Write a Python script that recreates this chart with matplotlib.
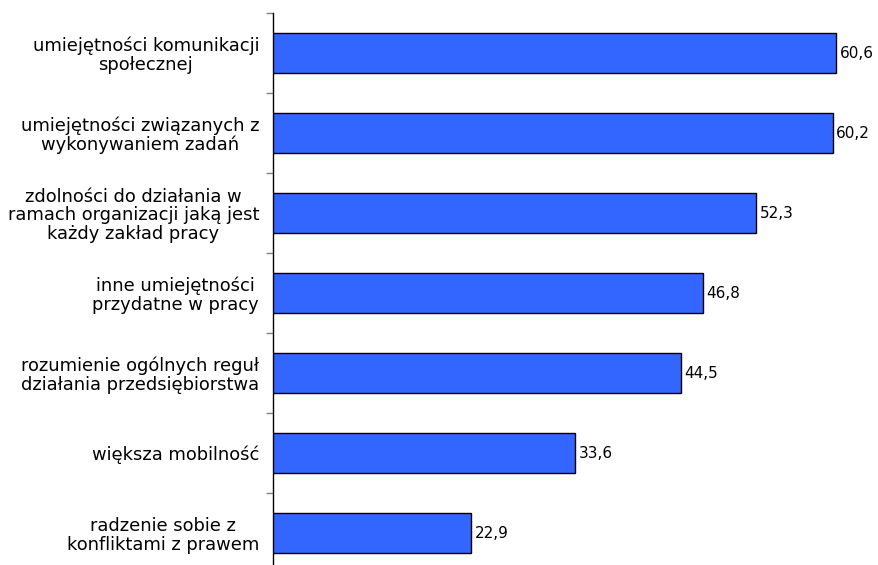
import matplotlib.pyplot as plt
import numpy as np

categories = [
    "umiejętności komunikacji\nspołecznej",
    "umiejętności związanych z\nwykonywaniem zadań",
    "zdolności do działania w\nramach organizacji jaką jest\nkażdy zakład pracy",
    "inne umiejętności\nprzydatne w pracy",
    "rozumienie ogólnych reguł\ndziałania przedsiębiorstwa",
    "większa mobilność",
    "radzenie sobie z\nkonfliktami z prawem",
]
values = [60.6, 60.2, 52.3, 46.8, 44.5, 33.6, 22.9]
value_labels = ["60,6", "60,2", "52,3", "46,8", "44,5", "33,6", "22,9"]

fig = plt.figure(figsize=(8.79, 5.65), dpi=100)
ax = fig.add_axes([273 / 879, -8 / 565, 1 - 273 / 879, 560 / 565])

y = np.arange(len(categories))
ax.barh(y, values, height=0.5, left=0, color="#3366ff",
        edgecolor="black", linewidth=1)

for yi, v, lab in zip(y, values, value_labels):
    ax.text(v + 0.35, yi, lab, va="center", ha="left", fontsize=11)

ax.set_xlim(2.4, 65)
ax.set_ylim(len(categories) - 0.5, -0.5)

ax.set_yticks(y)
ax.set_yticklabels(categories, fontsize=12.9, ha="right",
                   multialignment="center", linespacing=1.05)
ax.tick_params(axis="y", which="major", length=0, pad=10)
ax.set_yticks(np.arange(-0.5, len(categories), 1), minor=True)
ax.tick_params(axis="y", which="minor", length=5, color="#808080", width=1)

ax.set_xticks([])
for side in ["top", "right", "bottom"]:
    ax.spines[side].set_visible(False)
ax.spines["left"].set_linewidth(1)

fig.savefig("out.png", dpi=100)
